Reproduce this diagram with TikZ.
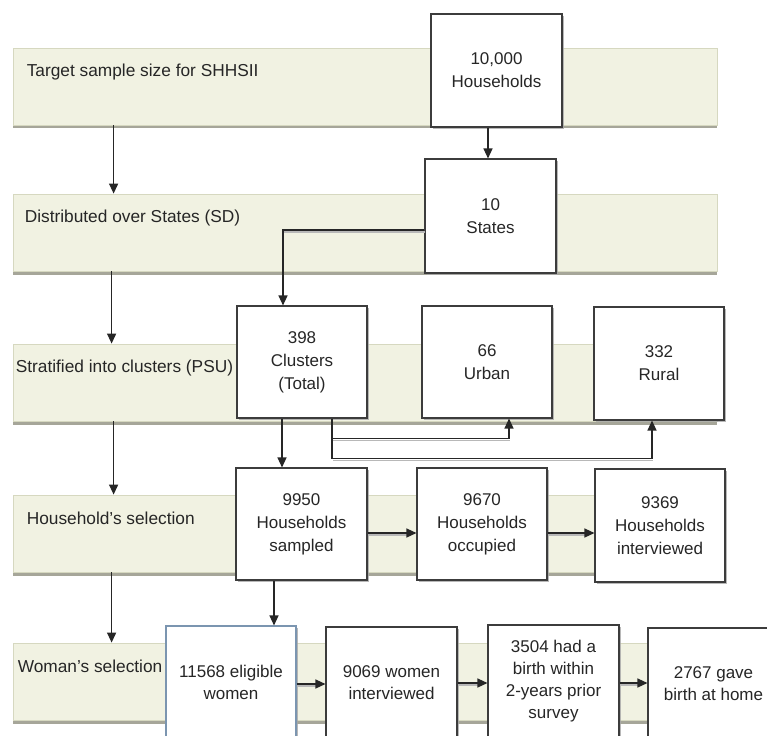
\documentclass[tikz,border=0pt]{standalone}
\usepackage{fontspec}
\setmainfont{Liberation Sans}
\usetikzlibrary{arrows.meta,shadows,calc}
\definecolor{bandfill}{HTML}{F1F2E2}
\definecolor{bandedge}{HTML}{D6D8C0}
\definecolor{bandshadow}{HTML}{A6A699}
\definecolor{boxedge}{HTML}{3C3C3C}
\definecolor{blueedge}{HTML}{7B95B0}
\definecolor{txt}{HTML}{262626}
\begin{document}
\begin{tikzpicture}[x=1pt,y=-1pt,
  band/.style={rectangle, fill=bandfill, draw=bandedge, line width=0.8pt,
    minimum width=704pt, minimum height=77pt, inner sep=0pt,
    drop shadow={shadow xshift=0pt, shadow yshift=-3.5pt, fill=bandshadow, opacity=1}},
  bandlabel/.style={anchor=west, inner sep=0pt, text=txt, font=\fontsize{17.3}{20}\selectfont},
  box/.style={rectangle, draw=boxedge, fill=white, line width=1.1pt,
    minimum width=130pt, minimum height=112pt, inner sep=0pt, align=center,
    text=txt, font=\fontsize{17}{23}\selectfont,
    drop shadow={shadow xshift=1.5pt, shadow yshift=-2pt, fill=black!35, opacity=0.8}},
  lowbox/.style={box, font=\fontsize{17}{22}\selectfont},
  arr/.style={-{Triangle[length=10pt,width=9pt]}, line width=1.3pt, draw=black!85},
  shd/.style={line width=1.2pt, draw=black!28, transform canvas={shift={(1pt,-2pt)}}}
]
\useasboundingbox (0,0) rectangle (767,735);
\clip (0,0) rectangle (767,735);

% bands
\node[band] (band1) at (365,86.5) {};
\node[band] (band2) at (365,232.5) {};
\node[band] (band3) at (365,382.5) {};
\node[band] (band4) at (365,533.5) {};
\node[band] (band5) at (365,681.5) {};
\node[bandlabel] (lab1) at ($(band1.north west)+(14,24)$) {Target sample size for SHHSII};
\node[bandlabel] (lab2) at ($(band2.north west)+(12,24)$) {Distributed over States (SD)};
\node[bandlabel] (lab3) at ($(band3.north west)+(3,24)$) {Stratified into clusters (PSU)};
\node[bandlabel] (lab4) at ($(band4.north west)+(14,24)$) {Household’s selection};
\node[bandlabel] (lab5) at ($(band5.north west)+(5,24)$) {Woman’s selection};

% boxes
\node[box, minimum width=131pt, minimum height=113pt] (hh) at (496.5,70.5) {10,000\\Households};
\node[box, minimum width=131pt, minimum height=114pt] (states) at (490.5,216) {10\\States};
\node[box] (clusters) at (302,362) {398\\Clusters\\(Total)};
\node[box] (urban) at (487,362) {66\\Urban};
\node[box, minimum height=113pt] (rural) at (659,363.5) {332\\Rural};
\node[box, minimum width=131pt] (sampled) at (301.5,524) {9950\\Households\\sampled};
\node[box] (occupied) at (482,524) {9670\\Households\\occupied};
\node[box, minimum height=113pt] (interviewed) at (660,525.5) {9369\\Households\\interviewed};
\node[lowbox, draw=blueedge] (eligible) at (231,682) {11568 eligible\\women};
\node[lowbox, minimum width=131pt] (women) at (391.5,683) {9069 women\\interviewed};
\node[lowbox, minimum width=131pt] (birth) at (553.5,681) {3504 had a\\birth within\\2-years prior\\survey};
\node[lowbox, minimum width=131pt] (home) at (713.5,684) {2767 gave\\birth at home};

% band-to-band arrows
\coordinate (b1) at ($(band1.south west)+(101,0)$);
\coordinate (b2) at ($(band2.south west)+(99,0)$);
\coordinate (b3) at ($(band3.south west)+(101,0)$);
\coordinate (b4) at ($(band4.south west)+(99,0)$);
\draw[arr] (b1) -- (b1 |- band2.north);
\draw[arr] (b2) -- (b2 |- band3.north);
\draw[arr] (b3) -- (b3 |- band4.north);
\draw[arr] (b4) -- (b4 |- band5.north);

% top chain
\coordinate (h1) at ($(hh.south)+(-8.5,0)$);
\draw[arr] (h1) -- (h1 |- states.north);

\coordinate (s0) at ($(states.west)+(0,14)$);
\coordinate (c0) at ($(clusters.north)+(-19,0)$);
\draw[shd] (s0) -- (s0 -| c0);
\draw[arr] (s0) -| (c0);

\coordinate (c1) at ($(clusters.south)+(-20,0)$);
\draw[arr] (c1) -- (c1 |- sampled.north);

\coordinate (c2) at ($(clusters.south)+(30,0)$);
\coordinate (u1) at ($(urban.south)+(22,0)$);
\coordinate (r1) at ($(rural.south)+(-7,0)$);
\draw[shd] ($(c2)+(0,20)$) -- ($(u1)+(0,20)$);
\draw[shd] ($(c2)+(0,40)$) -- ($(r1)+(0,38)$);
\draw[arr] (c2) -- ++(0,20) -| (u1);
\draw[arr] (c2) -- ++(0,40) -| (r1);

% household row
\coordinate (o0) at ($(sampled.east)+(0,9)$);
\coordinate (o1) at ($(occupied.east)+(0,9)$);
\draw[shd, shorten >=8pt] (o0) -- (o0 -| occupied.west);
\draw[arr] (o0) -- (o0 -| occupied.west);
\draw[shd, shorten >=8pt] (o1) -- (o1 -| interviewed.west);
\draw[arr] (o1) -- (o1 -| interviewed.west);

\coordinate (s1) at ($(sampled.south)+(-27.5,0)$);
\draw[arr] (s1) -- (s1 |- eligible.north);

% woman row
\coordinate (e1) at ($(eligible.east)+(0,2)$);
\coordinate (w1) at (women.east);
\coordinate (t1) at ($(birth.east)+(0,2)$);
\draw[shd, shorten >=8pt] (e1) -- (e1 -| women.west);
\draw[arr] (e1) -- (e1 -| women.west);
\draw[shd, shorten >=8pt] (w1) -- (w1 -| birth.west);
\draw[arr] (w1) -- (w1 -| birth.west);
\draw[shd, shorten >=8pt] (t1) -- (t1 -| home.west);
\draw[arr] (t1) -- (t1 -| home.west);
\end{tikzpicture}
\end{document}
